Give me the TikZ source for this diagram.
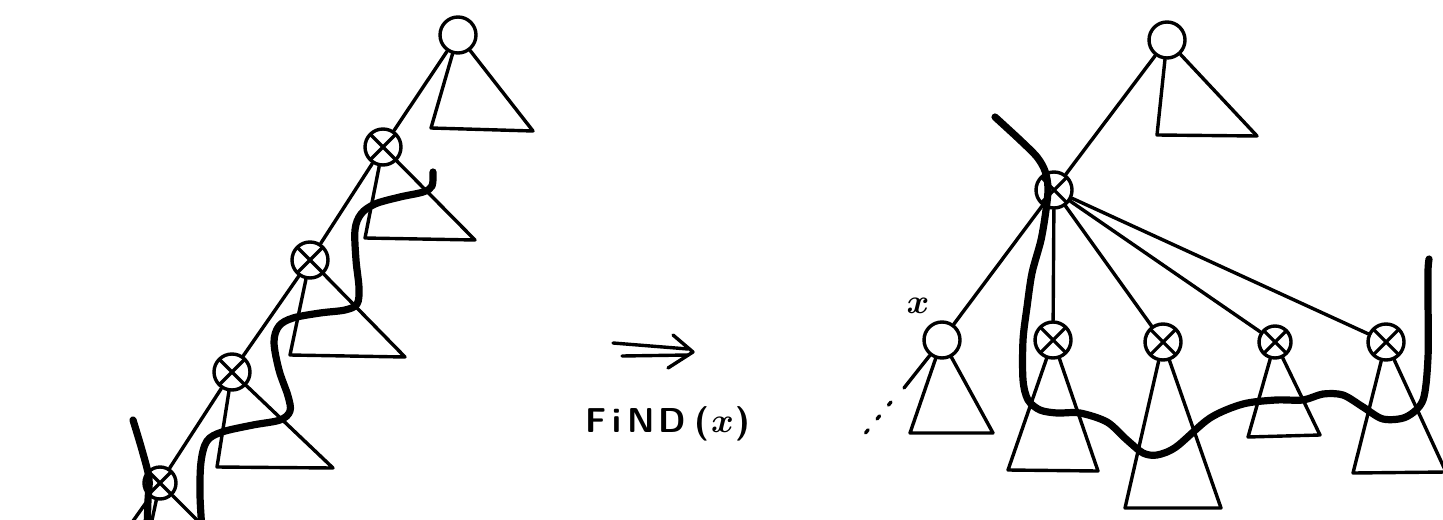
\documentclass[tikz,border=0pt]{standalone}
\usepackage{fontspec}
\usepackage{bm}
\begin{document}
\begin{tikzpicture}[x=0.5pt,y=-0.5pt,
  ln/.style={line width=1.7pt, line cap=round, line join=round},
  cut/.style={line width=3.6pt, line cap=round, line join=round},
  plain/.style={circle, draw, line width=1.7pt, minimum size=18pt, inner sep=0pt},
  smallplain/.style={plain, minimum size=16pt},
  otimes/.style={plain, path picture={\draw[line width=1.6pt]
     ([shift={(45:9pt)}]path picture bounding box.center) -- ([shift={(225:9pt)}]path picture bounding box.center)
     ([shift={(135:9pt)}]path picture bounding box.center) -- ([shift={(-45:9pt)}]path picture bounding box.center);}},
  smallotimes/.style={otimes, minimum size=16pt},
  lbl/.style={inner sep=0pt, font=\LARGE},
]
\useasboundingbox (0,0) rectangle (1443,519);
\clip (0,0) rectangle (1443,519);

% ---------------- left tree ----------------
\node[plain]       (L0) at (458,35)  {};
\node[otimes]      (L1) at (383,147) {};
\node[otimes]      (L2) at (310,260) {};
\node[otimes]      (L3) at (232,372) {};
\node[smallotimes] (L4) at (160,483) {};

\coordinate (L0a) at (431,128); \coordinate (L0b) at (533,131);
\coordinate (L1a) at (365,238); \coordinate (L1b) at (475,240);
\coordinate (L2a) at (290,355); \coordinate (L2b) at (405,357);
\coordinate (L3a) at (217,467); \coordinate (L3b) at (333,468);
\coordinate (L4a) at (146,548); \coordinate (L4b) at (225,548);
\coordinate (L4n) at (116,545);

\draw[ln] (L0) -- (L1);
\draw[ln] (L1) -- (L2);
\draw[ln] (L2) -- (L3);
\draw[ln] (L3) -- (L4);
\draw[ln] (L4) -- (L4n);

\draw[ln] (L0) -- (L0a) -- (L0b) -- (L0);
\draw[ln] (L1) -- (L1a) -- (L1b) -- (L1);
\draw[ln] (L2) -- (L2a) -- (L2b) -- (L2);
\draw[ln] (L3) -- (L3a) -- (L3b) -- (L3);
\draw[ln] (L4) -- (L4a) -- (L4b) -- (L4);

% thick cut line, left
\draw[cut] plot[smooth, tension=0.55] coordinates {
  (433,172) (432,186) (423,192) (400,197) (375,204) (361,214) (355,230)
  (356,260) (359,288) (357,304) (345,310) (320,313) (293,318) (279,326)
  (274,342) (279,370) (288,396) (290,411) (280,420) (253,425) (222,432)
  (207,441) (201,462) (200,495) (202,530)};
\draw[cut] plot[smooth, tension=0.5] coordinates {
  (133,420) (142,450) (149,478) (148,500) (147,530)};

% ---------------- middle ----------------
\coordinate (A1) at (613,343); \coordinate (A2) at (688,349);
\coordinate (A3) at (622,356); \coordinate (A4) at (688,355);
\coordinate (H1) at (673,335); \coordinate (H2) at (693,352); \coordinate (H3) at (668,368);
\draw[ln] (A1) -- (A2);
\draw[ln] (A3) -- (A4);
\draw[ln] (H1) -- (H2) -- (H3);
\node[lbl, font=\LARGE\sffamily\bfseries] (find) at (668,424)
  {F\hspace{3pt}i\hspace{3pt}N\hspace{2pt}D\hspace{4pt}(\hspace{1pt}$\bm{x}$\hspace{1pt})};

% ---------------- right tree ----------------
\node[plain]       (R0) at (1167,40)  {};
\node[otimes]      (RX) at (1054,190) {};
\node[plain]       (Rx) at (942,340)  {};
\node[otimes]      (R1) at (1053,340) {};
\node[otimes]      (R2) at (1163,342) {};
\node[smallotimes] (R3) at (1275,342) {};
\node[otimes]      (R4) at (1386,342) {};
\node[lbl] (xlabel) at (918,306) {$\bm{x}$};

\coordinate (R0a) at (1157,135); \coordinate (R0b) at (1257,136);
\coordinate (Rxa) at (910,433);  \coordinate (Rxb) at (993,433);
\coordinate (R1a) at (1008,470); \coordinate (R1b) at (1098,471);
\coordinate (R2a) at (1125,508); \coordinate (R2b) at (1221,508);
\coordinate (R3a) at (1248,437); \coordinate (R3b) at (1320,435);
\coordinate (R4a) at (1353,473); \coordinate (R4b) at (1446,472);

\draw[ln] (R0) -- (RX);
\draw[ln] (RX) -- (Rx);
\draw[ln] (RX) -- (R1);
\draw[ln] (RX) -- (R2);
\draw[ln] (RX) -- (R3);
\draw[ln] (RX) -- (R4);

\draw[ln] (R0) -- (R0a) -- (R0b) -- (R0);
\draw[ln] (Rx) -- (Rxa) -- (Rxb) -- (Rx);
\draw[ln] (R1) -- (R1a) -- (R1b) -- (R1);
\draw[ln] (R2) -- (R2a) -- (R2b) -- (R2);
\draw[ln] (R3) -- (R3a) -- (R3b) -- (R3);
\draw[ln] (R4) -- (R4a) -- (R4b) -- (R4);

% dotted continuation to the left of x
\coordinate (xs) at (904,388);
\coordinate (xd1) at (891,402);
\coordinate (xd2) at (863,436);
\draw[ln] (Rx) -- (xs);
\draw[ln, dash pattern=on 2pt off 7pt] (xd1) -- (xd2);

% thick cut line, right
\draw[cut] plot[smooth, tension=0.5] coordinates {
  (995,117) (1020,140) (1037,157) (1045,171) (1048,188) (1046,210)
  (1041,240) (1032,273) (1027,307) (1023,340) (1023,380) (1028,400)
  (1040,410) (1057,413) (1080,413) (1107,422) (1127,440) (1143,453)
  (1157,455) (1176,447) (1210,418) (1243,404) (1276,400) (1303,400)
  (1323,394) (1343,395) (1363,407) (1383,419) (1406,417) (1423,400)
  (1428,357) (1428,300) (1428,270) (1429,259)};
\end{tikzpicture}
\end{document}
